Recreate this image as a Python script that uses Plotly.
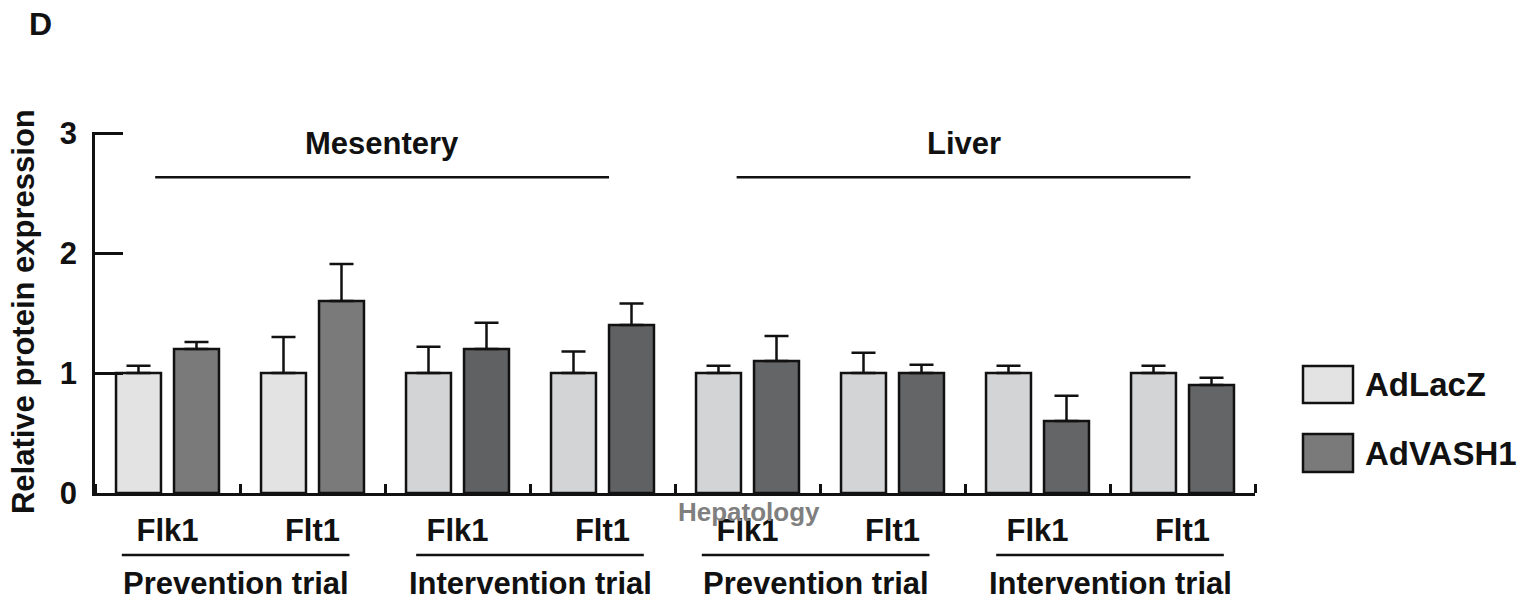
import plotly.graph_objects as go

# Relative protein expression of VEGF receptors, mean with upper SD
categories = ["Flk1", "Flt1", "Flk1", "Flt1", "Flk1", "Flt1", "Flk1", "Flt1"]
lacz_values = [1.0, 1.0, 1.0, 1.0, 1.0, 1.0, 1.0, 1.0]
lacz_errors = [0.06, 0.30, 0.22, 0.18, 0.06, 0.17, 0.06, 0.06]
vash_values = [1.2, 1.6, 1.2, 1.4, 1.1, 1.0, 0.6, 0.9]
vash_errors = [0.06, 0.31, 0.22, 0.18, 0.21, 0.07, 0.21, 0.06]
trial_labels = ["Prevention trial", "Intervention trial", "Prevention trial", "Intervention trial"]
tissue_labels = ["Mesentery", "Liver"]
series_names = ["AdLacZ", "AdVASH1"]
y_ticks = [0, 1, 2, 3]

# fill shades per bar
lacz_colors = ["#e3e3e3", "#e3e3e3"] + ["#d3d4d6"] * 6
vash_colors = ["#7a7a7a", "#7a7a7a", "#606163", "#606163"] + ["#646567"] * 4

FONT = "Liberation Sans, Arial, Helvetica, sans-serif"
INK = "#111111"
LW = 2.5
FS = 31

xpos = list(range(len(categories)))

fig = go.Figure()
for name, vals, errs, cols in [
    (series_names[0], lacz_values, lacz_errors, lacz_colors),
    (series_names[1], vash_values, vash_errors, vash_colors),
]:
    fig.add_trace(go.Bar(
        x=xpos, y=vals, name=name, showlegend=False,
        marker=dict(color=cols, line=dict(color=INK, width=LW)),
        error_y=dict(type="data", array=errs, arrayminus=[0] * len(errs),
                     symmetric=False, color=INK, thickness=LW, width=12),
    ))

# plot-area geometry in pixels, for placing the side elements
L, R, B = 95, 1255, 493
Y_TOP = 3.01                 # a hair above 3 so the top tick is kept
T = B - 120 * Y_TOP          # 120 px per unit


def px_x(px):
    return (px - L) / (R - L)


def px_y(py):
    return (B - py) / (B - T)


def note(text, x, y, size=FS, color=INK, xref="paper", xanchor="center", angle=0):
    return dict(text=text, x=x, y=y, xref=xref, yref="paper",
                xanchor=xanchor, yanchor="middle", textangle=angle,
                showarrow=False,
                font=dict(family=FONT, size=size, color=color, weight="bold"))


annotations = []
shapes = []

# y-axis title and panel letter
annotations.append(note("Relative protein expression", px_x(23), px_y(312), angle=-90))
annotations.append(note("D", px_x(40), px_y(24), size=32))

# tissue headers with spanning lines
for label, center in zip(tissue_labels, [1.48, 5.49]):
    annotations.append(note(label, center, px_y(143), xref="x"))
    shapes.append(dict(type="line", xref="x", yref="paper",
                       x0=center - 1.565, x1=center + 1.565,
                       y0=px_y(177), y1=px_y(177),
                       line=dict(color=INK, width=LW)))

# trial labels under each pair of categories
for i, label in enumerate(trial_labels):
    center = 2 * i + 0.5 + (-0.03 if i % 2 == 0 else 0.0)
    shapes.append(dict(type="line", xref="x", yref="paper",
                       x0=center - 0.785, x1=center + 0.785,
                       y0=px_y(555), y1=px_y(555),
                       line=dict(color=INK, width=LW)))
    annotations.append(note(label, center, px_y(584), xref="x"))

# legend drawn as boxes with labels
for name, fill, top, bottom in [
    (series_names[0], "#e3e3e3", 366, 403),
    (series_names[1], "#7a7a7a", 434, 472),
]:
    shapes.append(dict(type="rect", xref="paper", yref="paper",
                       x0=px_x(1303), x1=px_x(1353), y0=px_y(bottom), y1=px_y(top),
                       fillcolor=fill, line=dict(color=INK, width=LW)))
    annotations.append(note(name, px_x(1363), px_y((top + bottom) / 2), size=33,
                            xanchor="left"))

# journal mark
annotations.append(note("Hepatology", px_x(749), px_y(512), size=26, color="#7f7f7f"))

fig.update_layout(
    width=1519, height=607,
    margin=dict(l=L, r=1519 - R, t=T, b=607 - B, autoexpand=False),
    paper_bgcolor="white", plot_bgcolor="white",
    barmode="group", bargap=0.2, bargroupgap=0.225,
    font=dict(family=FONT, color=INK),
    annotations=annotations, shapes=shapes,
    showlegend=False,
)
fig.update_xaxes(
    range=[-0.5, 7.5], tickmode="array", tickvals=xpos, ticktext=categories,
    ticks="", showline=True, linecolor=INK, linewidth=LW, showgrid=False, zeroline=False,
    tickfont=dict(family=FONT, size=FS, color=INK, weight="bold"),
    ticklabelstandoff=8,
    minor=dict(tickmode="linear", tick0=0.5, dtick=1, ticks="inside",
               ticklen=9, tickwidth=LW, tickcolor=INK, showgrid=False),
)
fig.update_yaxes(
    range=[0, Y_TOP], tickmode="array", tickvals=y_ticks,
    ticks="inside", ticklen=28, tickwidth=LW, tickcolor=INK,
    showline=True, linecolor=INK, linewidth=LW, showgrid=False, zeroline=False,
    tickfont=dict(family=FONT, size=FS, color=INK, weight="bold"),
    ticklabelstandoff=9,
)

fig.write_html("out.html")
